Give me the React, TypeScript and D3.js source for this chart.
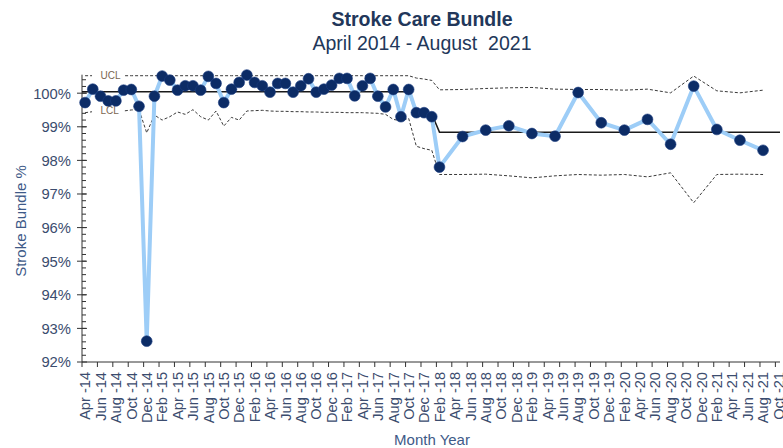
import React, { useRef, useEffect } from 'react';
import * as d3 from 'd3';

// months since Apr-2014 for each plotted point
const monthIdx = [
  0, 1, 2, 3, 4, 5, 6, 7, 8, 9, 10, 11, 12, 13, 14, 15, 16, 17, 18, 19, 20, 21, 22, 23,
  24, 25, 26, 27, 28, 29, 30, 31, 32, 33, 34, 35, 36, 37, 38, 39, 40, 41, 42, 43, 44, 45, 46,
  49, 52, 55, 58, 61, 64, 67, 70, 73, 76, 79, 82, 85, 88,
];

const bundlePct = [
  99.72, 100.12, 99.91, 99.77, 99.77, 100.09, 100.11, 99.61, 92.62, 99.91, 100.51, 100.39,
  100.09, 100.22, 100.22, 100.09, 100.5, 100.29, 99.72, 100.12, 100.32, 100.54, 100.32, 100.22,
  100.03, 100.29, 100.29, 100.03, 100.22, 100.43, 100.03, 100.12, 100.24, 100.44, 100.44, 99.92,
  100.22, 100.44, 99.91, 99.59, 100.11, 99.3, 100.11, 99.42, 99.42, 99.3, 97.8,
  98.71, 98.9, 99.03, 98.8, 98.72, 100.02, 99.12, 98.9, 99.22, 98.48, 100.21, 98.92, 98.6, 98.3,
];

const centreLine = [
  ...Array(43).fill(100.04),
  99.38, 99.38, 99.38,
  ...Array(15).fill(98.84),
];

const ucl = [
  ...Array(43).fill(100.52),
  100.45, 100.42, 100.38,
  100.1, 100.11, 100.14, 100.16, 100.17, 100.12, 100.11, 100.11, 100.09, 100.12, 100.01, 100.51, 100.07, 100.01, 100.09,
];

const lcl = [
  99.42, 99.45, 99.48, 99.45, 99.46, 99.47, 99.5, 99.51, 98.82, 99.35, 99.2, 99.3,
  99.44, 99.37, 99.51, 99.3, 99.2, 99.47, 99.02, 99.28, 99.2, 99.47, 99.48, 99.49,
  99.47, 99.46, 99.46, 99.45, 99.45, 99.44, 99.44, 99.43, 99.43, 99.43, 99.42, 99.42,
  99.42, 99.41, 99.4, 99.37, 99.22, 99.18, 99.25, 98.42, 98.35, 98.3, 97.58,
  97.58, 97.59, 97.54, 97.48, 97.54, 97.58, 97.56, 97.58, 97.51, 97.63, 96.74, 97.58, 97.59, 97.58,
];

const monthNames = ['Jan', 'Feb', 'Mar', 'Apr', 'May', 'Jun', 'Jul', 'Aug', 'Sep', 'Oct', 'Nov', 'Dec'];
const tickMonths = d3.range(0, 91, 2);
const yTicks = d3.range(92, 100.01, 1);
const yMinor = d3.range(92.2, 100.5, 0.2);

const FONT = '"Liberation Sans", Arial, sans-serif';

const monthLabel = (i: number) => {
  const m = (3 + i) % 12;
  const y = 14 + Math.floor((3 + i) / 12);
  return `${monthNames[m]} -${y}`;
};

const plot = (svgRef: React.RefObject<SVGSVGElement>) => {
  const svg = d3.select(svgRef.current);
  svg.selectAll('*').remove();

  const x = d3.scaleLinear().domain([-0.4, 90.2]).range([82, 780]);
  const y = d3.scaleLinear().domain([92, 100.55]).range([362, 74.7]);

  const pts = monthIdx.map((m, i) => ({ m, v: bundlePct[i], c: centreLine[i], u: ucl[i], l: lcl[i] }));

  // titles
  svg.append('text')
    .attr('x', 422).attr('y', 26)
    .attr('text-anchor', 'middle')
    .style('font', `bold 19.5px ${FONT}`)
    .attr('fill', '#22375a')
    .text('Stroke Care Bundle');
  svg.append('text')
    .attr('x', 422).attr('y', 50)
    .attr('text-anchor', 'middle')
    .style('font', `19.5px ${FONT}`)
    .attr('fill', '#22375a')
    .attr('xml:space', 'preserve')
    .text('April 2014 - August  2021');

  // y axis
  const gy = svg.append('g').attr('stroke', '#333');
  gy.append('line').attr('x1', 82).attr('x2', 82).attr('y1', y(100.55)).attr('y2', y(92));
  gy.selectAll('.mn').data(yMinor).join('line')
    .attr('x1', 82).attr('x2', 86)
    .attr('y1', d => y(d)).attr('y2', d => y(d));
  gy.selectAll('.mj').data(yTicks).join('line')
    .attr('x1', 77).attr('x2', 87)
    .attr('y1', d => y(d)).attr('y2', d => y(d));
  svg.append('g').selectAll('text').data(yTicks).join('text')
    .attr('x', 71).attr('y', d => y(d))
    .attr('dy', '0.36em')
    .attr('text-anchor', 'end')
    .style('font', `14.8px ${FONT}`)
    .attr('fill', '#3b4c6e')
    .text(d => `${d}%`);

  // x axis
  const gx = svg.append('g').attr('stroke', '#333');
  gx.append('line').attr('x1', 82).attr('x2', 780).attr('y1', 362).attr('y2', 362);
  gx.selectAll('.t').data(tickMonths).join('line')
    .attr('x1', d => x(d - 0.4)).attr('x2', d => x(d - 0.4))
    .attr('y1', 362).attr('y2', 367);
  svg.append('g').selectAll('text').data(tickMonths).join('text')
    .attr('transform', d => `translate(${x(d)},372) rotate(-90)`)
    .attr('dy', '0.36em')
    .attr('text-anchor', 'end')
    .style('font', `14.6px ${FONT}`)
    .attr('fill', '#3b4c6e')
    .text(d => monthLabel(d));

  svg.append('text')
    .attr('x', 432).attr('y', 445)
    .attr('text-anchor', 'middle')
    .style('font', `15px ${FONT}`)
    .attr('fill', '#3e5a88')
    .text('Month Year');
  svg.append('text')
    .attr('transform', `translate(26,221) rotate(-90)`)
    .attr('text-anchor', 'middle')
    .style('font', `15px ${FONT}`)
    .attr('fill', '#3e5a88')
    .text('Stroke Bundle %');

  // control limits
  const limLine = (key: 'u' | 'l') => d3.line<any>().x(d => x(d.m)).y(d => y(d[key]));
  ['u', 'l'].forEach(k => {
    svg.append('path')
      .datum(pts)
      .attr('fill', 'none')
      .attr('stroke', '#3a3a3a')
      .attr('stroke-width', 1)
      .attr('stroke-dasharray', '3,2')
      .attr('d', limLine(k as 'u' | 'l'));
  });

  // centre line, running the full axis width
  const cl = [{ m: -0.4, c: centreLine[0] }, ...pts, { m: 90.2, c: centreLine[centreLine.length - 1] }];
  svg.append('path')
    .datum(cl)
    .attr('fill', 'none')
    .attr('stroke', '#1a1a1a')
    .attr('stroke-width', 1.5)
    .attr('d', d3.line<any>().x(d => x(d.m)).y(d => y(d.c)));

  // UCL / LCL labels
  [['UCL', ucl[0]], ['LCL', lcl[2]]].forEach(([t, v]) => {
    svg.append('rect')
      .attr('x', x(0.9)).attr('y', y(v as number) - 5)
      .attr('width', 32).attr('height', 10)
      .attr('fill', '#fff');
    svg.append('text')
      .attr('x', x(2)).attr('y', y(v as number))
      .attr('dy', '0.35em')
      .style('font', `10px ${FONT}`)
      .attr('fill', '#7a6650')
      .text(t as string);
  });

  // data
  svg.append('path')
    .datum(pts)
    .attr('fill', 'none')
    .attr('stroke', '#9dcdf7')
    .attr('stroke-width', 4)
    .attr('stroke-linejoin', 'round')
    .attr('d', d3.line<any>().x(d => x(d.m)).y(d => y(d.v)));

  svg.append('g').selectAll('circle').data(pts).join('circle')
    .attr('cx', d => x(d.m))
    .attr('cy', d => y(d.v))
    .attr('r', 5.4)
    .attr('fill', '#0c2c66')
    .attr('stroke', '#1a3a80')
    .attr('stroke-width', 0.6);
};

export default function App() {
  const svgRef = useRef<SVGSVGElement>(null);

  useEffect(() => {
    plot(svgRef);
  }, []);

  return (
    <svg
      ref={svgRef}
      width={783}
      height={448}
      style={{ position: 'absolute', left: 0, top: 0, background: '#fff' }}
    />
  );
}
